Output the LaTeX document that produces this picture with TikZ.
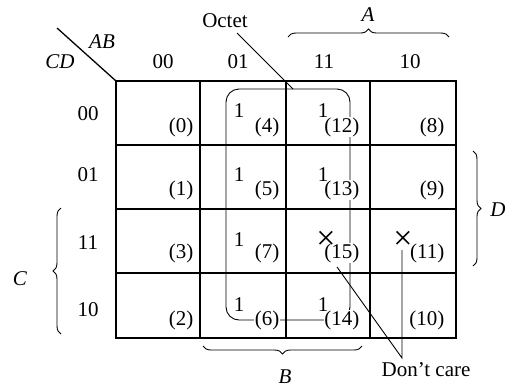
\documentclass[tikz,border=0pt]{standalone}
\usepackage{fontspec}
\setmainfont{Liberation Serif}
\usetikzlibrary{decorations.pathreplacing}
\begin{document}
\begin{tikzpicture}[x=1pt,y=-1pt,
  every node/.style={font=\fontsize{21}{24}\selectfont, inner sep=0.5pt},
  idx/.style={fill=white, anchor=east},
  var/.style={font=\fontsize{21}{24}\selectfont\itshape},
  dcmark/.style={font=\fontsize{34}{36}\selectfont, inner sep=0pt},
  gridline/.style={line width=1.3pt},
  octloop/.style={line width=0.9pt, rounded corners=13pt},
  lead/.style={line width=0.9pt},
  brc/.style={decorate, decoration={brace, amplitude=8pt}, line width=0.9pt}]
\useasboundingbox (0,0) rectangle (509,384);

% grid
\draw[gridline] (116,81) rectangle (456,338);
\draw[gridline] (200,81) -- (200,338) (286,81) -- (286,338) (370,81) -- (370,338);
\draw[gridline] (116,145) -- (456,145) (116,209) -- (456,209) (116,273) -- (456,273);
\draw[gridline] (57,28) -- (116,81);

% octet loop
\draw[octloop] (226,89) rectangle (350,320);

% headers
\node[var] (ab) at (102,42) {AB};
\node[var] (cd) at (60,62) {CD};
\node (h00) at (163,62) {00};
\node (h01) at (238,62) {01};
\node (h11) at (324,62) {11};
\node (h10) at (410,62) {10};
\node (r00) at (88,114) {00};
\node (r01) at (88,175) {01};
\node (r11) at (88,243) {11};
\node (r10) at (88,310) {10};

% cell indices
\node[idx] (i0) at (194,127) {(0)};
\node[idx] (i4) at (280,127) {(4)};
\node[idx] (i12) at (360,127) {(12)};
\node[idx] (i8) at (445,127) {(8)};
\node[idx] (i1) at (194,190) {(1)};
\node[idx] (i5) at (280,190) {(5)};
\node[idx] (i13) at (360,190) {(13)};
\node[idx] (i9) at (445,190) {(9)};
\node[idx] (i3) at (194,253) {(3)};
\node[idx] (i7) at (280,253) {(7)};
\node[idx] (i15) at (360,253) {(15)};
\node[idx] (i11) at (445,253) {(11)};
\node[idx] (i2) at (194,320) {(2)};
\node[idx] (i6) at (280,320) {(6)};
\node[idx] (i14) at (360,320) {(14)};
\node[idx] (i10) at (445,320) {(10)};

% ones
\node (o4) at (239,111) {1};
\node (o12) at (323,111) {1};
\node (o5) at (239,175) {1};
\node (o13) at (323,175) {1};
\node (o7) at (239,240) {1};
\node (o6) at (239,305) {1};
\node (o14) at (323,305) {1};

% don't cares
\node[dcmark] (x15) at (326,240) {×};
\node[dcmark] (x11) at (403,240) {×};

% octet label
\node (octet) at (225,21) {Octet};
\coordinate (octend) at (293,89);
\draw[lead] (237,33) -- (octend);

% don't care label
\node (dc) at (426,370) {Don't care};
\coordinate (dcp) at (402,358);
\coordinate (x15s) at (337,267);
\coordinate (x11s) at (402,250);
\draw[lead] (x15s) -- (dcp) -- (x11s);

% braces
\draw[brc] (288,37) -- (449,37);
\node[var] (A) at (368,15) {A};
\draw[brc] (362,346) -- (203,346);
\node[var] (B) at (285,377) {B};
\draw[brc] (61,334) -- (61,208);
\node[var] (C) at (20,279) {C};
\draw[brc] (473,151) -- (473,266);
\node[var] (D) at (498,210) {D};
\end{tikzpicture}
\end{document}
